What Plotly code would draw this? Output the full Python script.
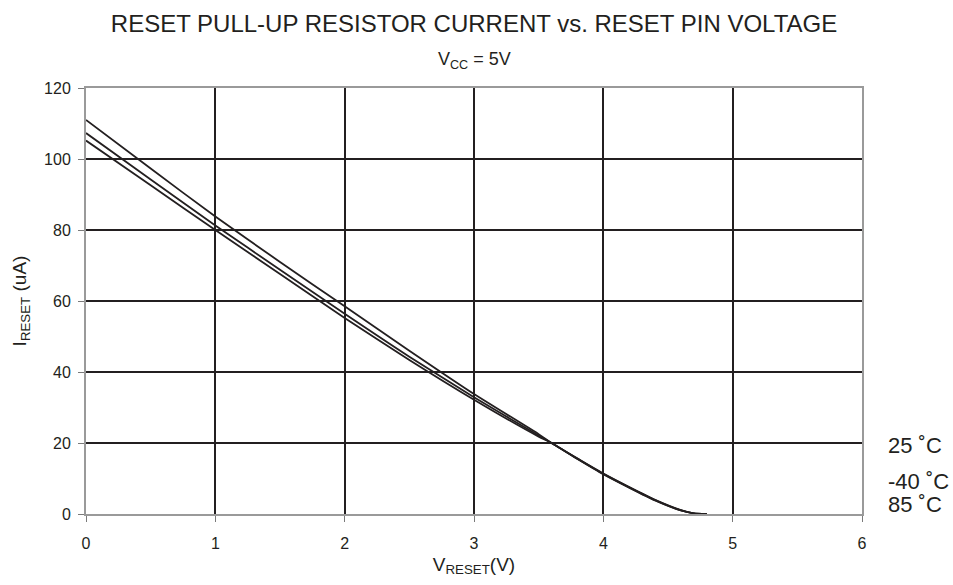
import plotly.graph_objects as go

# Reset pin voltage (V) sample points
v_reset = [0, 0.5, 1, 1.5, 2, 2.5, 3, 3.5, 3.6, 3.8, 4, 4.2, 4.4, 4.6, 4.7, 4.8]

# Pull-up current (uA) per temperature
i_25c = [111.0, 97.3, 83.8, 71.0, 58.5, 46.0, 33.8, 22.5, 20.0, 15.6, 11.4, 7.6, 4.0, 1.1, 0.2, 0]
i_m40c = [107.3, 94.2, 81.3, 68.8, 56.4, 44.3, 32.9, 22.1, 20.0, 15.6, 11.3, 7.5, 3.9, 1.0, 0.2, 0]
i_85c = [105.2, 92.6, 80.0, 67.6, 55.2, 43.4, 32.2, 21.8, 20.0, 15.5, 11.2, 7.4, 3.8, 1.0, 0.2, 0]

series = [("25 ˚C", i_25c), ("-40 ˚C", i_m40c), ("85 ˚C", i_85c)]

# Vertical placement (in axis units) of the temperature tags on the right
label_y = [19.4, 9.2, 2.8]

x_ticks = [0, 1, 2, 3, 4, 5, 6]
y_ticks = [0, 20, 40, 60, 80, 100, 120]

FONT = "Arial, 'Liberation Sans', sans-serif"
INK = "#231f20"

fig = go.Figure()
for name, vals in series:
    fig.add_trace(go.Scatter(
        x=v_reset, y=vals, mode="lines", name=name,
        line=dict(color=INK, width=1.8, shape="spline", smoothing=0.6),
        showlegend=False,
    ))

for (name, _), ly in zip(series, label_y):
    fig.add_annotation(
        text=name, xref="paper", yref="y", x=1.031, y=ly,
        xanchor="left", yanchor="middle", showarrow=False,
        font=dict(family=FONT, size=22, color=INK),
    )

fig.add_annotation(
    text="V<sub>CC</sub> = 5V", xref="paper", yref="paper",
    x=0.5, y=1.064, xanchor="center", yanchor="middle", showarrow=False,
    font=dict(family=FONT, size=18, color=INK),
)

fig.update_layout(
    width=953, height=585,
    margin=dict(l=86, r=91, t=88, b=71),
    paper_bgcolor="white", plot_bgcolor="white",
    font=dict(family=FONT, color=INK),
    title=dict(
        text="RESET PULL-UP RESISTOR CURRENT vs. RESET PIN VOLTAGE",
        x=0.5, xref="paper", y=1 - 24 / 585, yanchor="middle",
        font=dict(family=FONT, size=24, color=INK),
    ),
)

fig.update_xaxes(
    range=[0, 6], tickvals=x_ticks, ticktext=[str(t) for t in x_ticks],
    showgrid=True, gridcolor=INK, gridwidth=2,
    showline=True, linecolor="#9a9a9a", linewidth=2, mirror=True,
    ticks="outside", ticklen=6, tickcolor="#7a7a7a", tickwidth=1,
    tickfont=dict(size=16, family=FONT, color=INK),
    ticklabelstandoff=8,
    zeroline=False,
    title=dict(text="V<sub>RESET</sub>(V)", font=dict(size=19, family=FONT, color=INK), standoff=6),
)
fig.update_yaxes(
    range=[0, 120], tickvals=y_ticks,
    showgrid=True, gridcolor=INK, gridwidth=2,
    showline=True, linecolor="#9a9a9a", linewidth=2, mirror=True,
    ticks="outside", ticklen=6, tickcolor="#7a7a7a", tickwidth=1,
    tickfont=dict(size=16, family=FONT, color=INK),
    ticklabelstandoff=4,
    zeroline=False,
    title=dict(text="I<sub>RESET</sub> (uA)", font=dict(size=19, family=FONT, color=INK), standoff=12),
)

fig.write_html("out.html")
